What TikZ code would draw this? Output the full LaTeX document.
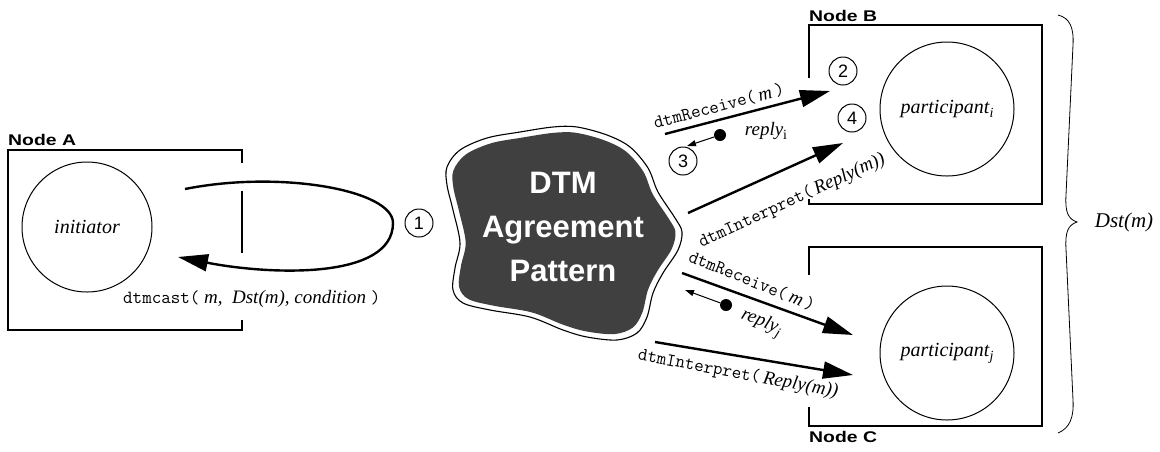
\documentclass[tikz,border=0pt]{standalone}
\usepackage{fontspec}
\setmainfont{Liberation Serif}
\setsansfont{Liberation Sans}
\usetikzlibrary{arrows.meta}
\definecolor{cloudgray}{RGB}{64,64,64}
\newcommand\mtt[1]{{\fontsize{18.5}{19}\selectfont\upshape\ttfamily #1}}
\newcommand\subi[1]{\raisebox{-0.45ex}{\fontsize{14}{14}\selectfont #1}}
\begin{document}
\begin{tikzpicture}[x=1pt,y=-1pt,
  box/.style={line width=1.2pt},
  proc/.style={draw, circle, line width=1pt, inner sep=0pt, font=\fontsize{20}{22}\selectfont\itshape},
  num/.style={draw, circle, line width=1pt, minimum size=28pt, inner sep=0pt, font=\fontsize{18}{18}\selectfont\sffamily},
  nodelbl/.style={font=\fontsize{15.5}{16}\selectfont\sffamily\bfseries, inner sep=0pt},
  lbl/.style={font=\fontsize{19}{20}\selectfont\itshape, inner sep=0pt},
  bigarrow/.style={line width=2.4pt, -{Triangle[length=30pt,width=17pt]}},
  smallarrow/.style={line width=1pt, -{Triangle[length=9pt,width=6pt]}},
  dotnode/.style={fill, circle, inner sep=0pt, minimum size=12pt}
]
\useasboundingbox (0,0) rectangle (1160,451);

% ---- Node A
\draw[box] (242,163) -- (242,150) -- (8,150) -- (8,330) -- (242,330) -- (242,320);
\draw[box] (242,191) -- (242,253);
\node[nodelbl, anchor=base west] (lA) at (8,145) {\scalebox{1.25}[1]{Node A}};
\node[proc, minimum size=130pt] (init) at (87,227) {initiator};

% ---- loop arrow
\coordinate (ls) at (185,189);
\coordinate (lr) at (393,223);
\coordinate (le) at (178,257);
\draw[bigarrow] (ls) .. controls (280,170) and (393,190) .. (lr)
                     .. controls (393,280) and (270,275) .. (le);
\node[lbl, anchor=west] (cast) at (123,299) {\mtt{dtmcast(}\ m,\ \ Dst(m), condition\ \mtt{)}};
\node[num] (n1) at (419,223) {1};

% ---- cloud
\draw[line width=1.1pt, fill=white] plot[smooth cycle, tension=0.55] coordinates {
 (447,167) (460,150) (487,138) (520,132) (553,127) (577,127) (607,135) (630,147)
 (648,168) (658,192) (675,218) (682,232) (678,250) (663,273) (653,293) (647,317)
 (637,333) (617,340) (587,337) (563,330) (530,317) (490,310) (463,303) (453,290)
 (455,268) (460,243) (453,210) (447,185)};
\begin{scope}[shift={(563,233)}, scale=0.945, shift={(-563,-233)}]
\fill[cloudgray] plot[smooth cycle, tension=0.55] coordinates {
 (447,167) (460,150) (487,138) (520,132) (553,127) (577,127) (607,135) (630,147)
 (648,168) (658,192) (675,218) (682,232) (678,250) (663,273) (653,293) (647,317)
 (637,333) (617,340) (587,337) (563,330) (530,317) (490,310) (463,303) (453,290)
 (455,268) (460,243) (453,210) (447,185)};
\end{scope}
\node[font=\fontsize{31}{44}\selectfont\sffamily\bfseries, text=white, align=center, inner sep=0pt] (dtm) at (563,227) {DTM\\Agreement\\Pattern};

% ---- Node B
\draw[box] (809,78) -- (809,25) -- (1042,25) -- (1042,204) -- (809,204) -- (809,199);
\node[nodelbl, anchor=base west] (lB) at (809,21) {\scalebox{1.25}[1]{Node B}};
\node[proc, minimum size=134pt] (pi) at (947,109) {participant\subi{i}};
\node[num] (n2) at (843,71) {2};
\node[num] (n4) at (852,118) {4};
\node[num] (n3) at (683,161) {3};

\coordinate (b1s) at (665,134); \coordinate (b1e) at (830,91);
\coordinate (b2s) at (688,213); \coordinate (b2e) at (843,143);
\draw[bigarrow] (b1s) -- (b1e);
\draw[bigarrow] (b2s) -- (b2e);
\node[lbl, rotate=14.6] (rb1) at (719,106) {\mtt{dtmReceive(}\,m\,\mtt{)}};
\node[lbl, rotate=24.5] (rb2) at (792,201) {\mtt{dtmInterpret(}\,Reply(m))};
\node[dotnode] (di) at (720,135) {};
\coordinate (ri) at (687,146);
\draw[smallarrow] (di) -- (ri);
\node[lbl] (repi) at (766,131) {reply\subi{\upshape i}};

% ---- Node C
\draw[box] (809,275) -- (809,247) -- (1042,247) -- (1042,426) -- (809,426) -- (809,407);
\node[nodelbl, anchor=base west] (lC) at (809,442) {\scalebox{1.25}[1]{Node C}};
\node[proc, minimum size=134pt] (pj) at (947,353) {participant\subi{j}};

\coordinate (c1s) at (682,273); \coordinate (c1e) at (853,335);
\coordinate (c2s) at (655,342); \coordinate (c2e) at (853,375);
\draw[bigarrow] (c1s) -- (c1e);
\draw[bigarrow] (c2s) -- (c2e);
\node[lbl, rotate=-21.8] (rc1) at (752,281) {\mtt{dtmReceive(}\,m\,\mtt{)}};
\node[lbl, rotate=-10.5] (rc2) at (738,374) {\mtt{dtmInterpret(}\,Reply(m))};
\node[dotnode] (dj) at (726,305) {};
\coordinate (rj) at (685,290);
\draw[smallarrow] (dj) -- (rj);
\node[lbl, rotate=-22] (repj) at (761,323) {reply\subi{j}};

% ---- brace
\draw[line width=0.8pt] (1058,15) .. controls (1070,18) and (1074,28) .. (1073,45)
  -- (1066,195) .. controls (1065,212) and (1068,219) .. (1077,222)
  .. controls (1068,225) and (1065,232) .. (1066,249)
  -- (1073,400) .. controls (1074,417) and (1070,428) .. (1058,433);
\node[lbl, font=\fontsize{21}{22}\selectfont\itshape] (dst) at (1124,222) {Dst(m)};
\end{tikzpicture}
\end{document}
